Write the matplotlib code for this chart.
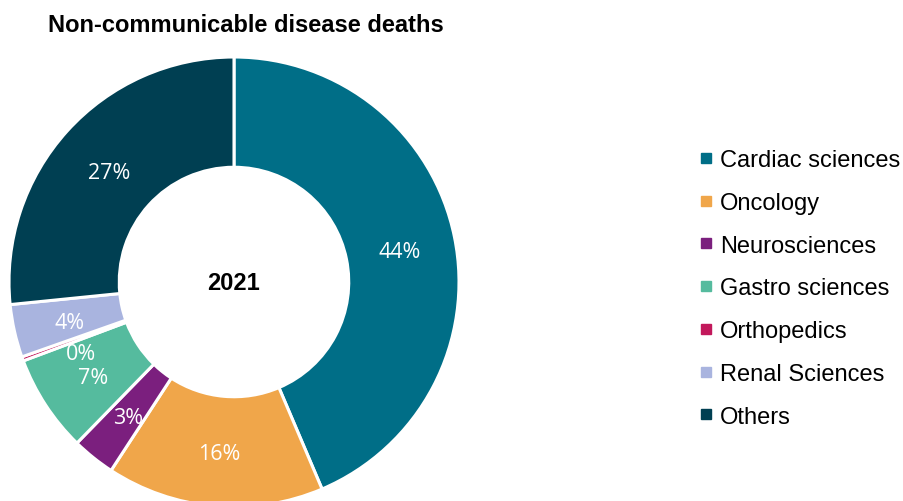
import matplotlib
matplotlib.use('Agg')
import matplotlib.pyplot as plt
from matplotlib.lines import Line2D

# Datos
categorias = ['Cardiac sciences', 'Oncology', 'Neurosciences', 'Gastro sciences',
              'Orthopedics', 'Renal Sciences', 'Others']
valores = [43.6, 15.6, 3.1, 7.0, 0.3, 3.8, 26.6]
colores = ['#006E87', '#F0A64A', '#7B1F7E', '#55BB9E', '#C2185B', '#A9B4DF', '#003F52']
titulo = 'Non-communicable disease deaths'
anio = '2021'

W, H = 904, 502
cx, cy, R = 234, 283, 225  # centro y radio en pixeles

fig = plt.figure(figsize=(W / 100, H / 100), dpi=100)
ax = fig.add_axes([0, 0, 1, 1])

wedges, texts, autotexts = ax.pie(
    valores, colors=colores, startangle=90, counterclock=False,
    autopct='%1.0f%%', pctdistance=0.75,
    wedgeprops=dict(width=0.49, edgecolor='white', linewidth=2.2),
    textprops=dict(color='white', fontsize=15.5, family='Open Sans'))

# bajar un poco las etiquetas, y separar la de 0%
for t in autotexts:
    x0, y0 = t.get_position()
    t.set_position((x0, y0 - 0.015))
autotexts[4].set_position((-0.68, -0.32))

ax.set_aspect('auto')
ax.set_xlim(-cx / R, (W - cx) / R)
ax.set_ylim(-(H - cy) / R, cy / R)
ax.axis('off')

ax.text(0, 0, anio, ha='center', va='center', fontsize=17, fontweight='bold',
        family='Liberation Sans')
fig.text(246 / W, 1 - 25 / H, titulo, ha='center', va='center', fontsize=17,
         fontweight='bold', family='Liberation Sans')

handles = [Line2D([], [], marker='s', linestyle='none', markersize=7,
                  markerfacecolor=c, markeredgecolor=c) for c in colores]
fig.legend(handles, categorias, loc='upper left', bbox_to_anchor=(699 / W, 1 - 150 / H),
           frameon=False, prop=dict(family='Liberation Sans', size=17),
           handlelength=0.6, handletextpad=0.3, labelspacing=0.88, borderpad=0,
           borderaxespad=0)

fig.savefig('out.png', dpi=100)
